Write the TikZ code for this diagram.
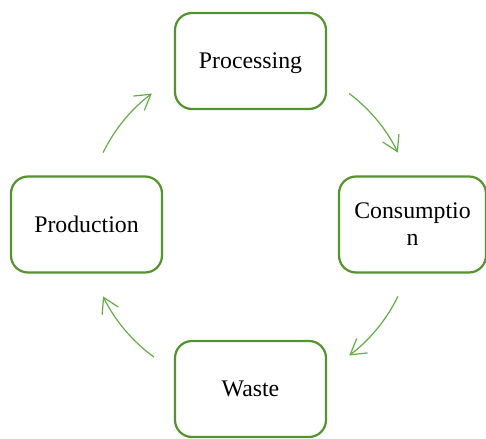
\documentclass[tikz,border=0pt]{standalone}
\usepackage{fontspec}
\setmainfont{Liberation Serif}
\usetikzlibrary{arrows.meta,calc}
\definecolor{boxgreen}{RGB}{84,148,46}
\definecolor{arrgreen}{RGB}{100,172,68}
\tikzset{
  stagebox/.style={draw=boxgreen, line width=2.2pt, rounded corners=17pt, fill=white,
    minimum width=151pt, minimum height=96pt, inner sep=2pt, align=center,
    text depth=0pt, font=\fontsize{23.8}{27}\selectfont},
  cyclearrow/.style={draw=arrgreen, line width=1.2pt,
    -{Straight Barb[length=15pt,width=18pt,line width=1.2pt]}}
}
\begin{document}
\begin{tikzpicture}[x=1pt,y=-1pt]
\useasboundingbox (0,0) rectangle (486,438);
\coordinate (c) at (250.5,224.5);
\node[stagebox] (proc) at (250.5,61) {Processing};
\node[stagebox, minimum width=147pt] (cons) at (412.5,224.5) {Consumptio\\n};
\node[stagebox] (prod) at (86.5,224.5) {Production};
\node[stagebox] (waste) at (250.5,389) {Waste};
\coordinate (a1) at ($(c)+(53:164pt)$);
\coordinate (a2) at ($(c)+(-26:164pt)$);
\coordinate (a3) at ($(c)+(-126:164pt)$);
\coordinate (a4) at ($(c)+(154:164pt)$);
\draw[cyclearrow] (a1) arc[start angle=53, end angle=26, radius=164pt];
\draw[cyclearrow] (a2) arc[start angle=-26, end angle=-53, radius=164pt];
\draw[cyclearrow] (a3) arc[start angle=-126, end angle=-154, radius=164pt];
\draw[cyclearrow] (a4) arc[start angle=154, end angle=127, radius=164pt];
\end{tikzpicture}
\end{document}
